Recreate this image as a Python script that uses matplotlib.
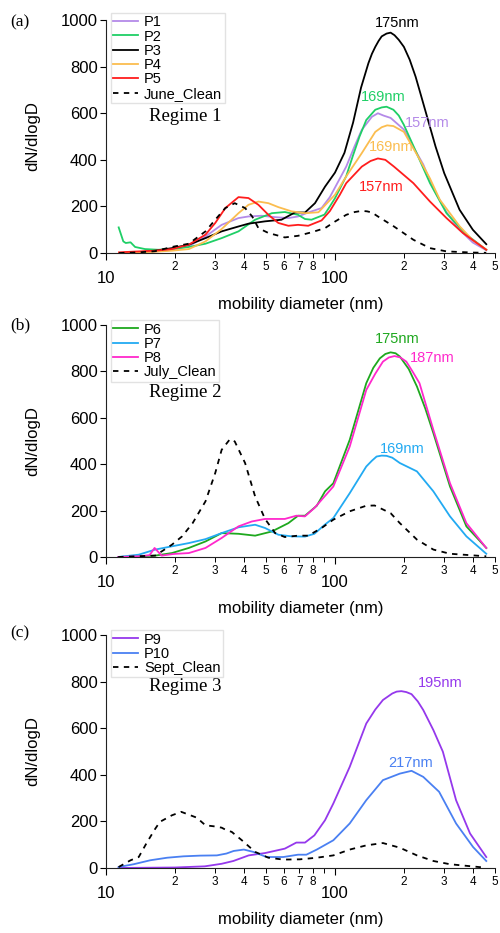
import numpy as np
import matplotlib
matplotlib.use("Agg")
import matplotlib.pyplot as plt
import matplotlib.ticker as mticker

plt.rcParams['font.family'] = ['Liberation Sans', 'DejaVu Sans']

# ---- panel (a) data: diameter (nm) / dN/dlogD ----
p1_d = [11.4, 14, 16, 18, 20, 23, 27.2, 32, 37.9, 41.9, 47.8, 54.8, 62.6, 69, 76.4, 87.4, 95, 112, 122, 131, 145, 154, 163, 175, 200, 220, 243, 268, 307, 350, 400, 458]
p1_y = [0, 3, 6, 10, 15, 29, 71, 121, 150, 157, 160, 154, 150, 157, 174, 193, 240, 371, 460, 529, 585, 600, 590, 580, 530, 455, 380, 280, 175, 100, 45, 12]
p2_d = [11.36, 11.9, 12.2, 12.8, 13.4, 14.8, 16.9, 19.4, 23, 27.2, 32, 37.9, 44.8, 53, 60.4, 69, 74, 79, 90, 95, 100, 112, 120, 128, 137, 150, 160, 168, 180, 190, 200, 220, 260, 307, 375, 458]
p2_y = [110, 50, 43, 46, 26, 17, 14, 17, 26, 40, 64, 93, 143, 171, 176, 164, 146, 143, 165, 200, 235, 330, 420, 500, 571, 615, 625, 628, 615, 590, 550, 460, 300, 171, 79, 14]
p3_d = [11.4, 14, 16.4, 19.4, 23, 27.2, 32, 37.9, 41.9, 49.5, 58.4, 66.8, 74, 81.8, 90.5, 100, 110, 120, 130, 140, 145, 150, 155, 160, 168, 175, 182, 190, 200, 212, 225, 237, 250, 275, 300, 350, 400, 458]
p3_y = [0, 4, 10, 21, 36, 64, 93, 114, 126, 136, 143, 174, 174, 214, 285, 345, 430, 560, 710, 815, 855, 885, 910, 930, 942, 946, 935, 915, 885, 830, 757, 680, 600, 457, 343, 186, 100, 38]
p4_d = [11.4, 16, 19.4, 23, 27.2, 32, 37.9, 41.9, 46.3, 51.2, 56.6, 64.6, 74, 84.7, 100, 112, 131, 150, 160, 169, 180, 200, 235, 260, 287, 351, 400, 458]
p4_y = [0, 5, 10, 17, 50, 103, 171, 207, 221, 214, 197, 179, 171, 175, 250, 329, 429, 520, 540, 548, 545, 520, 400, 320, 229, 114, 55, 15]
p5_d = [11.4, 13.2, 16.4, 19.4, 23, 27.2, 30, 33.2, 37.9, 41.9, 46.3, 51.2, 56.6, 62.6, 69, 76.4, 87.4, 95, 105, 112, 131, 143, 154, 166, 181, 220, 260, 307, 362, 458]
p5_y = [3, 6, 10, 17, 36, 79, 129, 193, 240, 236, 207, 164, 129, 117, 121, 117, 140, 180, 250, 300, 371, 395, 406, 400, 371, 300, 221, 150, 86, 14]
june_d = [11.4, 14, 16.4, 19.4, 23, 27.2, 30, 33.2, 36.5, 40.5, 43.5, 46.3, 51.2, 60.4, 69, 79, 90.5, 100, 112, 122, 131, 138, 145, 154, 181, 220, 260, 307, 400, 458]
june_y = [0, 3, 8, 26, 40, 93, 143, 193, 214, 193, 157, 107, 86, 67, 74, 89, 107, 135, 164, 176, 181, 179, 174, 157, 114, 57, 21, 7, 2, 1]

# ---- panel (b) ----
p6_d = [11.3, 14, 16.4, 19.4, 23, 27.2, 32, 37.9, 44.8, 53, 62.6, 69, 74, 83.3, 90.5, 98.4, 116, 137, 147, 157, 166, 175, 184, 192, 210, 228, 248, 269, 318, 375, 458]
p6_y = [0, 3, 6, 17, 39, 67, 103, 100, 92, 110, 146, 178, 178, 221, 283, 318, 505, 749, 815, 856, 875, 882, 878, 864, 810, 735, 640, 534, 304, 132, 39]
p7_d = [11.3, 13.9, 16.4, 19.4, 23, 27.2, 32, 37.9, 44.8, 49.5, 56.6, 64.6, 74, 81.3, 90.5, 98.4, 116, 137, 145, 152, 160, 168, 178, 192, 228, 269, 318, 375, 458]
p7_y = [0, 10, 32, 46, 60, 77, 103, 128, 139, 125, 96, 89, 88, 100, 140, 168, 275, 390, 415, 433, 437, 436, 428, 405, 369, 283, 175, 89, 14]
p8_d = [11.3, 14, 15.5, 16.3, 17.5, 19.7, 23, 27.2, 32, 37.9, 43.3, 49.5, 60.4, 67.8, 73.9, 81.3, 98.4, 116, 137, 150, 162, 172, 182, 193, 205, 218, 234, 269, 318, 375, 458]
p8_y = [0, 3, 8, 39, 6, 13, 17, 39, 82, 132, 153, 164, 164, 178, 175, 211, 304, 476, 720, 790, 842, 860, 866, 860, 842, 800, 749, 548, 318, 146, 39]
july_d = [11.3, 16.4, 17.5, 19.4, 21.5, 23.9, 27.2, 30, 32, 34.8, 36.5, 40.5, 44.8, 49.5, 54.8, 60.4, 69, 76.4, 87.4, 98.4, 116, 137, 149, 175, 192, 228, 269, 318, 458]
july_y = [0, 6, 24, 53, 89, 146, 240, 362, 462, 508, 498, 405, 261, 164, 103, 86, 92, 92, 125, 161, 197, 221, 222, 189, 146, 75, 32, 14, 3]

# ---- panel (c) ----
p9_d = [11.35, 15, 20, 27, 32, 36, 42, 49.5, 60.4, 67.8, 74, 81.3, 90.5, 98.4, 116, 137, 150, 162, 178, 186, 195, 205, 216, 230, 243, 269, 296, 338, 389, 458]
p9_y = [0, 1, 2, 7, 18, 30, 54, 64, 83, 109, 109, 140, 205, 277, 434, 620, 680, 721, 749, 757, 759, 755, 746, 715, 678, 592, 499, 291, 148, 47]
p10_d = [11.35, 13.2, 15.6, 18.5, 21.8, 25.8, 30.5, 33.6, 36.1, 40, 44, 50.3, 59.5, 69, 75, 83.3, 98.4, 116, 137, 162, 192, 216, 243, 285, 338, 401, 458]
p10_y = [4, 16, 33, 44, 50, 53, 54, 62, 73, 79, 69, 47, 47, 57, 57, 79, 119, 191, 291, 377, 405, 417, 391, 327, 191, 90, 30]
sept_d = [11.35, 12.8, 13.9, 15.1, 16.4, 17.2, 19.4, 21.3, 24.9, 27.2, 29.5, 32, 33.6, 35.4, 39.2, 44.8, 51.2, 59.5, 70.2, 83.3, 98.4, 116, 137, 162, 192, 228, 269, 318, 458]
sept_y = [4, 33, 47, 110, 168, 198, 226, 241, 216, 183, 179, 173, 162, 155, 119, 69, 44, 36, 37, 44, 54, 79, 97, 107, 87, 54, 30, 16, 1]

# x tick labelling
major_ticks = [10, 100]
minor_ticks = [20, 30, 40, 50, 60, 70, 80, 90, 200, 300, 400, 500]
minor_labels = ['2', '3', '4', '5', '6', '7', '8', '', '2', '3', '4', '5']

fig = plt.figure(figsize=(5, 9.33), dpi=100)
L, W = 0.212, 0.778
ax_a = fig.add_axes([L, 0.7288, W, 0.2497])
ax_b = fig.add_axes([L, 0.4030, W, 0.2487])
ax_c = fig.add_axes([L, 0.0697, W, 0.2497])

def style(ax):
    ax.set_xscale('log')
    ax.set_xlim(10, 500)
    ax.set_ylim(0, 1000)
    ax.spines['top'].set_visible(False)
    ax.spines['right'].set_visible(False)
    for s in ['left', 'bottom']:
        ax.spines[s].set_linewidth(0.8)
        ax.spines[s].set_color('#222222')
    ax.xaxis.set_major_locator(mticker.FixedLocator(major_ticks))
    ax.xaxis.set_major_formatter(mticker.FixedFormatter([str(t) for t in major_ticks]))
    ax.xaxis.set_minor_locator(mticker.FixedLocator(minor_ticks))
    ax.xaxis.set_minor_formatter(mticker.FixedFormatter(minor_labels))
    ax.tick_params(axis='x', which='major', length=5, width=0.8, pad=8, labelsize=12)
    ax.tick_params(axis='x', which='minor', length=3.5, width=0.7, pad=2, labelsize=8.5)
    ax.set_yticks([0, 200, 400, 600, 800, 1000])
    ax.tick_params(axis='y', length=4, width=0.8, pad=2, labelsize=12)
    ax.set_xlabel('mobility diameter (nm)', fontsize=12)
    ax.xaxis.set_label_coords(0.5, -0.19)
    ax.set_ylabel('dN/dlogD', fontsize=12)
    ax.yaxis.set_label_coords(-0.17, 0.5)

def leg(ax, y_top):
    ax.legend(loc='upper left', bbox_to_anchor=(0.012, y_top), fontsize=10.5,
              labelspacing=0.02, handlelength=1.7, handletextpad=0.45,
              borderpad=0.15, borderaxespad=0, fancybox=False,
              edgecolor='#e2e2e2', framealpha=1)

lw = 1.3

# (a)
ax_a.plot(p1_d, p1_y, color='#b48ae8', lw=lw, label='P1')
ax_a.plot(p2_d, p2_y, color='#1fcf66', lw=lw, label='P2')
ax_a.plot(p3_d, p3_y, color='black', lw=lw, label='P3')
ax_a.plot(p4_d, p4_y, color='#fbbd4f', lw=lw, label='P4')
ax_a.plot(p5_d, p5_y, color='#ff1d1d', lw=lw, label='P5')
ax_a.plot(june_d, june_y, color='black', lw=lw, ls=(0, (3, 3)), label='June_Clean')
style(ax_a)
leg(ax_a, 1.03)
ax_a.text(188, 987, '175nm', color='black', fontsize=10.5, ha='center', va='center')
ax_a.text(162, 670, '169nm', color='#1fcf66', fontsize=10.5, ha='center', va='center')
ax_a.text(252, 558, '157nm', color='#b48ae8', fontsize=10.5, ha='center', va='center')
ax_a.text(177, 455, '169nm', color='#fbbd4f', fontsize=10.5, ha='center', va='center')
ax_a.text(160, 283, '157nm', color='#ff1d1d', fontsize=10.5, ha='center', va='center')
ax_a.text(0.203, 0.584, 'Regime 1', transform=ax_a.transAxes, fontsize=13.5,
          family='Liberation Serif', ha='center', va='center')

# (b)
ax_b.plot(p6_d, p6_y, color='#1ea81e', lw=lw, label='P6')
ax_b.plot(p7_d, p7_y, color='#22aaf2', lw=lw, label='P7')
ax_b.plot(p8_d, p8_y, color='#ff28cc', lw=lw, label='P8')
ax_b.plot(july_d, july_y, color='black', lw=lw, ls=(0, (3, 3)), label='July_Clean')
style(ax_b)
leg(ax_b, 1.02)
ax_b.text(187, 940, '175nm', color='#1ea81e', fontsize=10.5, ha='center', va='center')
ax_b.text(265, 858, '187nm', color='#ff28cc', fontsize=10.5, ha='center', va='center')
ax_b.text(196, 466, '169nm', color='#22aaf2', fontsize=10.5, ha='center', va='center')
ax_b.text(0.203, 0.711, 'Regime 2', transform=ax_b.transAxes, fontsize=13.5,
          family='Liberation Serif', ha='center', va='center')

# (c)
ax_c.plot(p9_d, p9_y, color='#9538ec', lw=lw, label='P9')
ax_c.plot(p10_d, p10_y, color='#4a80f2', lw=lw, label='P10')
ax_c.plot(sept_d, sept_y, color='black', lw=lw, ls=(0, (3, 3)), label='Sept_Clean')
style(ax_c)
leg(ax_c, 1.02)
ax_c.text(287, 794, '195nm', color='#9538ec', fontsize=10.5, ha='center', va='center')
ax_c.text(215, 451, '217nm', color='#4a80f2', fontsize=10.5, ha='center', va='center')
ax_c.text(0.203, 0.777, 'Regime 3', transform=ax_c.transAxes, fontsize=13.5,
          family='Liberation Serif', ha='center', va='center')

for lab, ypix in [('(a)', 22), ('(b)', 325), ('(c)', 633)]:
    fig.text(20 / 500, 1 - ypix / 933, lab, fontsize=12.5, family='Liberation Serif',
             ha='center', va='center')

fig.savefig('out.png', dpi=100)
